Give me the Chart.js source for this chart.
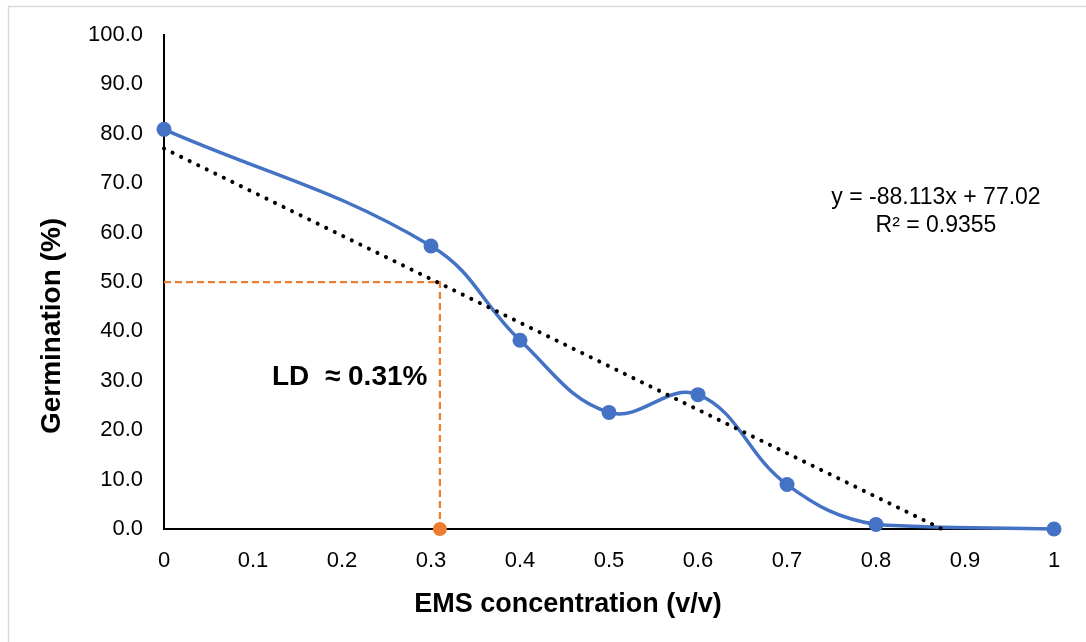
<!DOCTYPE html>
<html>
<head>
<meta charset="utf-8">
<script src="https://cdn.jsdelivr.net/npm/chart.js@4.4.1/dist/chart.umd.min.js"></script>
<style>
  html, body { margin: 0; padding: 0; background: #fff; }
  canvas { display: block; }
</style>
</head>
<body>
<canvas id="grafica" width="1086" height="642"></canvas>
<script>
// Datos de germinación frente a concentración de EMS
const concentrations = [0, 0.3, 0.4, 0.5, 0.6, 0.7, 0.8, 1];
const germination = [80.9, 57.3, 38.2, 23.6, 27.2, 9.0, 0.9, 0];

// Línea de tendencia (extremos)
const trendX = [0, 0.874];
const trendY = [77.02, 0];

// Dosis letal (LD50)
const ldX = [0, 0.31, 0.31];
const ldY = [50, 50, 0];

const equationLines = ["y = -88.113x + 77.02", "R\u00b2 = 0.9355"];
const ldLabel = "LD  \u2248 0.31%";
const xTitle = "EMS concentration (v/v)";
const yTitle = "Germination (%)";

const FONT = "'Liberation Sans', Arial, sans-serif";

// Textos y marco dibujados a mano
const textos = {
  id: "textos",
  beforeDraw(chart) {
    const c = chart.ctx;
    c.save();
    c.strokeStyle = "#d9d9d9";
    c.lineWidth = 1.5;
    c.beginPath();
    c.moveTo(8.5, 700);
    c.lineTo(8.5, 6.5);
    c.lineTo(1100, 6.5);
    c.stroke();
    c.restore();
  },
  afterDraw(chart) {
    const c = chart.ctx;
    c.save();
    c.fillStyle = "#000";
    c.textAlign = "center";
    c.textBaseline = "middle";
    c.font = "23px " + FONT;
    c.fillText(equationLines[0], 936, 198);
    c.fillText(equationLines[1], 936, 226);

    c.font = "bold 28px " + FONT;
    c.textAlign = "left";
    c.fillText(ldLabel, 272, 377);

    c.font = "bold 27px " + FONT;
    c.textAlign = "center";
    c.fillText(xTitle, 568, 605);

    c.font = "bold 28px " + FONT;
    c.translate(52, 326);
    c.rotate(-Math.PI / 2);
    c.fillText(yTitle, 0, 0);
    c.restore();
  }
};

const ctx = document.getElementById("grafica").getContext("2d");
new Chart(ctx, {
  type: "line",
  data: {
    datasets: [
      {
        label: "Tendencia",
        data: trendX.map((x, i) => ({ x: x, y: trendY[i] })),
        borderColor: "#000",
        borderWidth: 4,
        borderDash: [0.1, 9.4],
        borderCapStyle: "round",
        pointRadius: 0,
        tension: 0,
        clip: false
      },
      {
        label: "LD",
        data: ldX.map((x, i) => ({ x: x, y: ldY[i] })),
        borderColor: "#ED7D31",
        backgroundColor: "#ED7D31",
        borderWidth: 2.25,
        borderDash: [7, 4],
        pointRadius: [0, 0, 7],
        pointBorderWidth: 0,
        tension: 0,
        clip: false
      },
      {
        label: "Germinación",
        data: concentrations.map((x, i) => ({ x: x, y: germination[i] })),
        borderColor: "#4472C4",
        backgroundColor: "#4472C4",
        borderWidth: 3.5,
        pointRadius: 7.5,
        pointBorderWidth: 0,
        tension: 0.4,
        clip: false
      }
    ]
  },
  options: {
    responsive: false,
    animation: false,
    layout: { padding: { top: 35, right: 32, left: 0, bottom: 0 } },
    plugins: {
      legend: { display: false },
      tooltip: { enabled: false }
    },
    scales: {
      x: {
        type: "linear",
        min: 0,
        max: 1,
        afterFit(scale) { scale.height = 113; },
        border: { display: true, color: "#000", width: 2 },
        grid: { display: false, drawTicks: false },
        ticks: {
          stepSize: 0.1,
          padding: 19,
          color: "#000",
          font: { family: FONT, size: 22 },
          maxRotation: 0,
          callback: v => String(Number(v.toFixed(1)))
        }
      },
      y: {
        min: 0,
        max: 100,
        afterFit(scale) { scale.width = 164; },
        border: { display: true, color: "#000", width: 2 },
        grid: { display: false, drawTicks: false },
        ticks: {
          stepSize: 10,
          padding: 21,
          color: "#000",
          font: { family: FONT, size: 22 },
          callback: v => v.toFixed(1)
        }
      }
    }
  },
  plugins: [textos]
});
</script>
</body>
</html>
